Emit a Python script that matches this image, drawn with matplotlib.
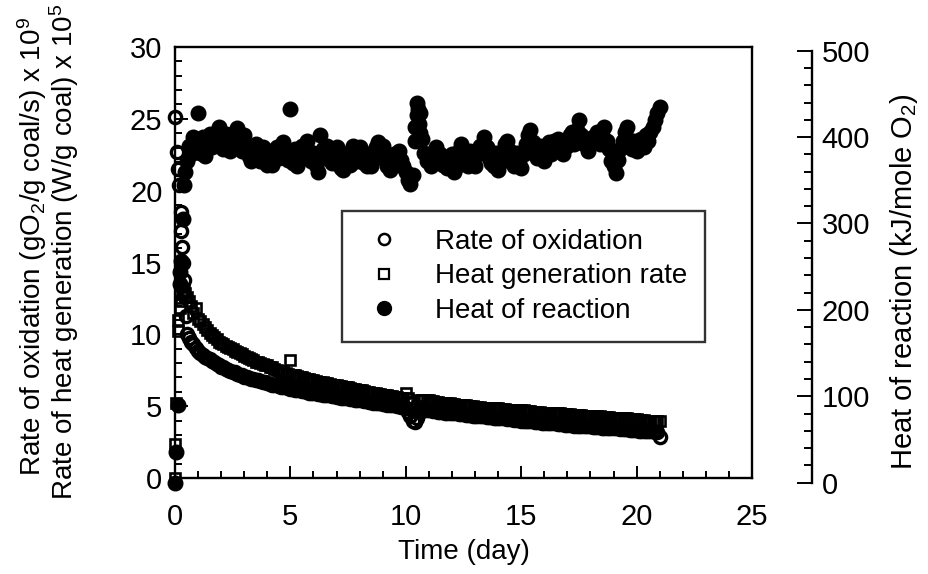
import numpy as np
import matplotlib
matplotlib.use("Agg")
import matplotlib.pyplot as plt
from matplotlib.ticker import MultipleLocator
from matplotlib.lines import Line2D

plt.rcParams['font.family'] = ['Liberation Sans', 'DejaVu Sans']
plt.rcParams['mathtext.fontset'] = 'custom'
plt.rcParams['mathtext.rm'] = 'Liberation Sans'

# ---------------- data ----------------
# regular sampling grid (days) for the bulk of the record
t_grid = np.round(np.arange(0.5, 21.0001, 0.1), 2)

# Rate of oxidation (gO2/g coal/s x 1e9)
ox_t_early = [0.0, 0.10, 0.14, 0.18, 0.24, 0.28, 0.32, 0.35, 0.38, 0.42, 0.46]
ox_early = [25.1, 22.7, 21.5, 20.4, 18.5, 17.2, 16.1, 15.0, 13.8, 12.6, 11.3]
ox_main = [
    10.0, 9.75, 9.5, 9.3, 9.05, 8.85, 8.7, 8.55, 8.45, 8.35,
    8.25, 8.15, 8.05, 7.95, 7.85, 7.75, 7.7, 7.6, 7.55, 7.45,
    7.4, 7.35, 7.25, 7.2, 7.15, 7.05, 7.0, 6.95, 6.9, 6.9,
    6.85, 6.8, 6.75, 6.7, 6.65, 6.6, 6.55, 6.5, 6.5, 6.45,
    6.4, 6.35, 6.35, 6.3, 6.25, 6.2, 6.2, 6.15, 6.1, 6.1,
    6.05, 6.05, 6.0, 5.95, 5.95, 5.9, 5.9, 5.85, 5.85, 5.8,
    5.8, 5.75, 5.75, 5.7, 5.7, 5.65, 5.65, 5.6, 5.6, 5.55,
    5.55, 5.5, 5.5, 5.45, 5.45, 5.4, 5.4, 5.35, 5.35, 5.3,
    5.3, 5.25, 5.25, 5.2, 5.2, 5.15, 5.15, 5.1, 5.1, 5.05,
    5.05, 5.0, 5.0, 4.95, 4.95, 4.9, 4.6, 4.3, 4.0, 3.9,
    4.2, 4.6, 4.75, 4.75, 4.7, 4.7, 4.7, 4.65, 4.65, 4.6,
    4.6, 4.6, 4.55, 4.55, 4.55, 4.5, 4.5, 4.5, 4.45, 4.45,
    4.45, 4.4, 4.4, 4.4, 4.35, 4.35, 4.35, 4.3, 4.3, 4.3,
    4.25, 4.25, 4.25, 4.2, 4.2, 4.2, 4.15, 4.15, 4.15, 4.1,
    4.1, 4.1, 4.05, 4.05, 4.05, 4.0, 4.0, 4.0, 3.95, 3.95,
    3.95, 3.9, 3.9, 3.9, 3.85, 3.85, 3.85, 3.8, 3.8, 3.8,
    3.8, 3.75, 3.75, 3.75, 3.7, 3.7, 3.7, 3.7, 3.65, 3.65,
    3.65, 3.65, 3.6, 3.6, 3.6, 3.6, 3.55, 3.55, 3.55, 3.55,
    3.5, 3.5, 3.5, 3.5, 3.45, 3.45, 3.45, 3.45, 3.4, 3.4,
    3.4, 3.4, 3.35, 3.35, 3.35, 3.35, 3.3, 3.3, 3.3, 3.3,
    3.25, 3.25, 3.25, 3.2, 3.2, 2.85,
]

# Heat generation rate (W/g coal x 1e5)
hg_t_early = [0.0, 0.02, 0.05, 0.12, 0.15, 0.20, 0.25, 0.30, 0.35, 0.40, 0.45]
hg_early = [0.0, 2.4, 5.2, 10.2, 11.0, 11.8, 12.3, 12.8, 13.0, 13.1, 12.9]
hg_main = [
    12.6, 12.3, 12.0, 11.5, 11.8, 11.1, 10.9, 10.7, 10.5, 10.3,
    10.1, 9.95, 9.8, 9.65, 9.5, 9.4, 9.3, 9.2, 9.1, 9.05,
    8.95, 8.85, 8.75, 8.7, 8.6, 8.5, 8.4, 8.35, 8.3, 8.2,
    8.1, 8.05, 8.0, 7.95, 7.9, 7.85, 7.75, 7.7, 7.6, 7.5,
    7.45, 7.4, 7.35, 7.3, 7.25, 8.2, 7.2, 7.15, 7.1, 7.05,
    7.0, 6.95, 6.9, 6.9, 6.85, 6.8, 6.75, 6.7, 6.7, 6.65,
    6.6, 6.6, 6.55, 6.5, 6.5, 6.45, 6.4, 6.4, 6.35, 6.3,
    6.3, 6.25, 6.2, 6.2, 6.15, 6.1, 6.1, 6.05, 6.0, 6.0,
    5.95, 5.95, 5.9, 5.85, 5.85, 5.8, 5.8, 5.75, 5.7, 5.7,
    5.65, 5.65, 5.6, 5.6, 5.55, 5.9, 5.55, 5.3, 4.9, 4.6,
    5.0, 5.45, 5.45, 5.45, 5.4, 5.4, 5.35, 5.35, 5.3, 5.3,
    5.25, 5.25, 5.2, 5.2, 5.2, 5.15, 5.15, 5.1, 5.1, 5.05,
    5.05, 5.05, 5.0, 5.0, 5.0, 4.95, 4.95, 4.95, 4.9, 4.9,
    4.9, 4.9, 4.85, 4.85, 4.85, 4.85, 4.8, 4.8, 4.8, 4.75,
    4.75, 4.75, 4.75, 4.7, 4.7, 4.7, 4.7, 4.65, 4.65, 4.65,
    4.6, 4.6, 4.6, 4.6, 4.55, 4.55, 4.55, 4.55, 4.5, 4.5,
    4.5, 4.5, 4.5, 4.45, 4.45, 4.45, 4.45, 4.4, 4.4, 4.4,
    4.4, 4.4, 4.35, 4.35, 4.35, 4.35, 4.3, 4.3, 4.3, 4.3,
    4.25, 4.25, 4.25, 4.25, 4.2, 4.2, 4.2, 4.2, 4.15, 4.15,
    4.15, 4.15, 4.1, 4.1, 4.1, 4.1, 4.05, 4.05, 4.05, 4.0,
    4.0, 4.0, 4.0, 3.95, 3.95, 3.95,
]

# Heat of reaction (kJ/mole O2)
hr_t_early = [0.0, 0.03, 0.14, 0.20, 0.22, 0.28, 0.36, 0.40, 0.45]
hr_early = [0, 35, 90, 230, 244, 257, 305, 345, 360]
hr_main = [
    372, 390, 380, 400, 386, 428, 382, 400, 378, 396,
    404, 388, 398, 406, 412, 394, 386, 404, 396, 384,
    398, 406, 410, 392, 384, 402, 390, 378, 372, 384,
    392, 380, 372, 388, 378, 368, 384, 368, 376, 388,
    376, 390, 394, 384, 374, 432, 370, 386, 366, 380,
    390, 378, 396, 384, 372, 382, 368, 360, 402, 386,
    376, 390, 378, 370, 380, 388, 372, 364, 362, 374,
    382, 368, 390, 382, 372, 388, 376, 370, 366, 380,
    366, 378, 388, 394, 380, 390, 374, 366, 362, 370,
    380, 368, 384, 374, 366, 360, 350, 346, 356, 412,
    439, 428, 398, 382, 372, 380, 366, 378, 388, 374,
    380, 368, 376, 364, 372, 380, 360, 366, 384, 392,
    380, 372, 366, 384, 372, 366, 380, 390, 384, 400,
    388, 376, 370, 366, 382, 362, 370, 384, 392, 396,
    384, 372, 366, 382, 370, 364, 380, 392, 402, 408,
    394, 384, 376, 390, 378, 372, 388, 394, 380, 396,
    386, 398, 388, 380, 396, 390, 402, 406, 392, 408,
    420, 402, 392, 398, 384, 392, 400, 396, 406, 392,
    402, 412, 396, 386, 372, 366, 358, 374, 386, 396,
    406, 412, 394, 386, 396, 384, 392, 398, 388, 402,
    396, 406, 412, 420, 428, 435,
]
hr_t_spike = [10.42, 10.48, 10.52, 10.58, 10.62]
hr_spike = [395, 425, 432, 415, 405]

labels = ["Rate of oxidation", "Heat generation rate", "Heat of reaction"]

# ---------------- figure ----------------
W, H = 929, 574
fig = plt.figure(figsize=(W / 100, H / 100), dpi=100)
fig.patch.set_facecolor('white')

L, R, T, B = 175, 752, 47, 478
ax = fig.add_axes([L / W, 1 - B / H, (R - L) / W, (B - T) / H])
ax.set_xlim(0, 25)
ax.set_ylim(0, 30)

ox_t = list(ox_t_early) + list(t_grid)
ox_v = list(ox_early) + list(ox_main)
hg_t = list(hg_t_early) + list(t_grid)
hg_v = list(hg_early) + list(hg_main)

ax.plot(hg_t, hg_v, ls='none', marker='s', ms=7.8, mfc='none', mec='black',
        mew=1.9, clip_on=False, zorder=3)
ax.plot(ox_t, ox_v, ls='none', marker='o', ms=8.8, mfc='none', mec='black',
        mew=2.4, clip_on=False, zorder=4)

for s in ax.spines.values():
    s.set_linewidth(1.7)
ax.xaxis.set_major_locator(MultipleLocator(5))
ax.xaxis.set_minor_locator(MultipleLocator(1))
ax.yaxis.set_major_locator(MultipleLocator(5))
ax.yaxis.set_minor_locator(MultipleLocator(1))
ax.tick_params(which='both', direction='in', top=False, right=False,
               width=1.4, labelsize=21)
ax.tick_params(which='major', length=9)
ax.tick_params(which='minor', length=5)
ax.tick_params(axis='x', pad=18)
ax.tick_params(axis='y', pad=9)
ax.set_xlabel("Time (day)", fontsize=20, labelpad=6)

# right (offset) axis for heat of reaction
RX, RB, RT = 811.7, 482.7, 50.7
ax2 = fig.add_axes([L / W, 1 - RB / H, (RX - L) / W, (RB - RT) / H])
ax2.set_xlim(0, 25 * (RX - L) / (R - L))
ax2.set_ylim(0, 500)
ax2.patch.set_visible(False)
for k in ['left', 'top', 'bottom']:
    ax2.spines[k].set_visible(False)
ax2.spines['right'].set_linewidth(1.7)
ax2.set_xticks([])
ax2.yaxis.tick_right()
ax2.yaxis.set_label_position('right')
ax2.yaxis.set_major_locator(MultipleLocator(100))
ax2.yaxis.set_minor_locator(MultipleLocator(20))
ax2.tick_params(axis='y', which='both', direction='in', width=1.4,
                labelsize=21, pad=7)
ax2.tick_params(axis='y', which='major', length=11)
ax2.tick_params(axis='y', which='minor', length=6)

hr_t = list(hr_t_early) + list(t_grid) + list(hr_t_spike)
hr_v = list(hr_early) + list(hr_main) + list(hr_spike)
ax2.plot(hr_t, hr_v, ls='none', marker='o', ms=10.5, mfc='black', mec='black',
         clip_on=False, zorder=5)

# axis titles
fig.text(32 / W, 1 - 247 / H,
         r"Rate of oxidation (gO$\mathregular{_2}$/g coal/s) x 10$\mathregular{^9}$",
         rotation=90, ha='center', va='center', fontsize=20)
fig.text(64 / W, 1 - 252 / H,
         r"Rate of heat generation (W/g coal) x 10$\mathregular{^5}$",
         rotation=90, ha='center', va='center', fontsize=20)
fig.text(904 / W, 1 - 282 / H,
         r"Heat of reaction (kJ/mole O$\mathregular{_2}$)",
         rotation=90, ha='center', va='center', fontsize=21)

# legend
handles = [
    Line2D([], [], ls='none', marker='o', ms=8, mfc='white', mec='black', mew=1.8),
    Line2D([], [], ls='none', marker='s', ms=7.5, mfc='white', mec='black', mew=1.6),
    Line2D([], [], ls='none', marker='o', ms=10, mfc='black', mec='black'),
]
leg = fig.legend(handles, labels, loc='upper left',
                 bbox_to_anchor=(342 / W, 1 - 211 / H), borderaxespad=0,
                 fontsize=20, frameon=True, fancybox=False, shadow=False,
                 borderpad=0.65, handlelength=1.73, handletextpad=0.97,
                 labelspacing=0.3)
leg.get_frame().set_edgecolor('black')
leg.get_frame().set_linewidth(1.7)
leg.set_zorder(10)

fig.savefig("out.png", dpi=100, facecolor='white')
